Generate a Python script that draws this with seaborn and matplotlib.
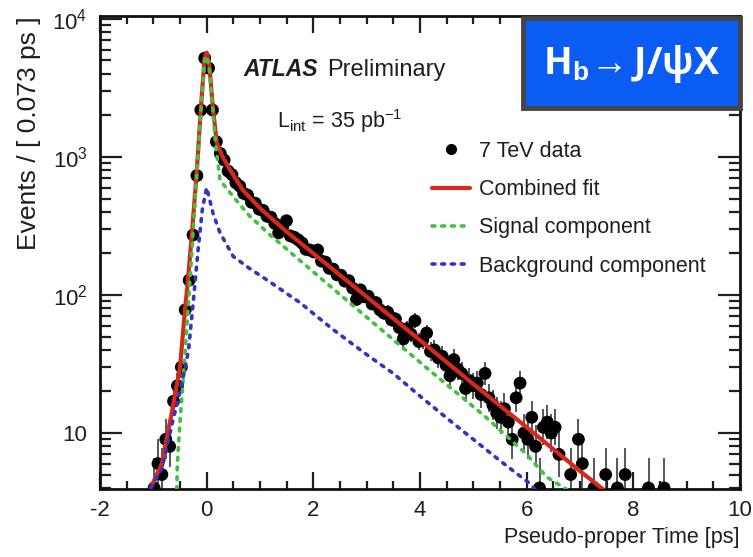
import numpy as np
import pandas as pd
import seaborn as sns
import matplotlib
matplotlib.use("Agg")
import matplotlib.pyplot as plt
from matplotlib.patches import Rectangle
from matplotlib.lines import Line2D
from matplotlib.ticker import FixedLocator, FixedFormatter, MultipleLocator, LogLocator, NullFormatter

# Binned data: 0.073 ps bins, first bin centre at -1.059 ps (0 = empty / off scale)
BIN_WIDTH = 0.073
FIRST_BIN = -1.059
counts = [
    0, 4, 6, 5, 9, 8, 17, 22, 30, 78, 128, 272, 733, 2190, 5200,
    4400, 2190, 1290, 1060, 950, 790, 745, 650, 615, 545, 530, 470, 462, 418,
    410, 372, 366, 330, 282, 309, 345, 268, 262, 251, 238, 214, 212, 205,
    212, 176, 173, 156, 154, 140, 139, 126, 127, 112, 93, 109, 97, 98,
    86, 88, 78, 74, 75, 66, 67, 58, 48, 57, 52, 65, 46, 47,
    53, 39, 40, 35, 36, 31, 26, 34, 29, 27, 21, 24, 22, 23,
    19, 27, 18, 16, 14, 13, 15, 12, 9, 18, 23, 10, 9, 13,
    8, 4, 11, 12, 10, 11, 7, 0, 0, 5, 0, 9, 6, 0,
    0, 4, 0, 0, 5, 0, 0, 4, 0, 5, 0, 0, 0, 0,
    0, 4, 0, 0, 0, 4, 0,
]

# Combined fit (red)
fit_t = [-1.05, -0.84, -0.64, -0.5, -0.41, -0.35, -0.28, -0.19, -0.11, -0.04, 0.0, 0.05,
         0.12, 0.19, 0.3, 0.44, 0.68, 1.0, 1.5, 2.0, 3.0, 4.0, 5.0, 6.0, 7.0, 7.55]
fit_n = [4, 6, 15, 30, 75, 130, 270, 740, 2200, 5200, 5700, 4600,
         2200, 1260, 1000, 805, 575, 425, 287, 200, 97, 47, 22.6, 11, 5.3, 3.6]

# Signal component (green)
sig_t = [-0.56, -0.55, -0.5, -0.45, -0.375, -0.28, -0.19, -0.11, -0.04, 0.0, 0.05, 0.12,
         0.16, 0.25, 0.5, 0.8, 1.19, 2.0, 3.0, 4.2, 5.19, 6.0, 6.375, 6.75]
sig_n = [3.9, 6, 12, 22, 56, 200, 700, 2100, 5000, 5400, 4300, 2100,
         1320, 680, 515, 375, 272, 147, 69, 28, 13.5, 7.0, 4.8, 3.9]

# Background component (blue)
bkg_t = [-1.05, -0.84, -0.64, -0.5, -0.4, -0.34, -0.25, -0.16, -0.08, 0.0, 0.12, 0.25,
         0.5, 0.81, 1.125, 1.75, 2.375, 3.0, 3.5, 4.0, 4.56, 5.5, 6.06, 6.16]
bkg_n = [4, 5.5, 12, 20, 30, 40, 90, 215, 420, 600, 390, 282,
         190, 155, 129, 88, 56, 37, 27, 18.5, 12.3, 6.3, 4.3, 3.9]

y_ticks = [10, 100, 1000, 10000]
y_tick_labels = ["10", "$10^{2}$", "$10^{3}$", "$10^{4}$"]
legend_labels = ["7 TeV data", "Combined fit", "Signal component", "Background component"]

RED = "#d8281c"
GREEN = "#3fc23f"
BLUE = "#3434c4"
TXT = "#1e1e1e"
DOTS = (0, (0.8, 1.9))

sns.set_style("ticks")
plt.rcParams["font.family"] = ["Liberation Sans", "DejaVu Sans"]
plt.rcParams["mathtext.fontset"] = "custom"
plt.rcParams["mathtext.rm"] = "Liberation Sans"
plt.rcParams["mathtext.it"] = "Liberation Sans:italic"
plt.rcParams["mathtext.bf"] = "Liberation Sans:bold"
plt.rcParams["axes.unicode_minus"] = False

W, H = 753, 557
fig = plt.figure(figsize=(W / 100, H / 100), dpi=100)
ax = fig.add_axes([100 / W, 1 - 489 / H, 640 / W, 473 / H])

# data points with Poisson-like errors
df = pd.DataFrame({"n": counts})
df["t"] = FIRST_BIN + BIN_WIDTH * np.arange(len(df))
df = df[df["n"] > 0]
half = np.sqrt(df["n"] + 0.25)
ax.errorbar(df["t"], df["n"], yerr=[half - 0.5, half + 0.5], fmt="none",
            ecolor="#2a2a2a", elinewidth=1.1, capsize=0, zorder=2)
sns.scatterplot(data=df, x="t", y="n", ax=ax, color="black", s=85,
                edgecolor="none", zorder=3)

sns.lineplot(x=fit_t, y=fit_n, ax=ax, color=RED, lw=3.0, sort=False,
             estimator=None, zorder=4)
sns.lineplot(x=sig_t, y=sig_n, ax=ax, color=GREEN, lw=2.6, sort=False,
             estimator=None, linestyle=DOTS, dash_capstyle="round", zorder=5)
sns.lineplot(x=bkg_t, y=bkg_n, ax=ax, color=BLUE, lw=2.6, sort=False,
             estimator=None, linestyle=DOTS, dash_capstyle="round", zorder=5)

ax.set_yscale("log")
ax.set_xlim(-2, 10)
ax.set_ylim(3.93, 1.05e4)
ax.xaxis.set_major_locator(MultipleLocator(2))
ax.xaxis.set_minor_locator(MultipleLocator(0.5))
ax.yaxis.set_major_locator(FixedLocator(y_ticks))
ax.yaxis.set_major_formatter(FixedFormatter(y_tick_labels))
ax.yaxis.set_minor_locator(LogLocator(base=10, subs=np.arange(2, 10)))
ax.yaxis.set_minor_formatter(NullFormatter())
ax.tick_params(which="both", direction="in", top=True, right=True, width=1.6,
               labelsize=16, colors=TXT)
ax.tick_params(axis="x", which="major", length=12, pad=8)
ax.tick_params(axis="x", which="minor", length=6)
ax.tick_params(axis="y", which="major", length=16, pad=9)
ax.tick_params(axis="y", which="minor", length=8)
for sp in ax.spines.values():
    sp.set_linewidth(2)
    sp.set_color("#111111")

ax.set_xlabel("Pseudo-proper Time [ps]", loc="right", fontsize=15.5, color=TXT,
              labelpad=4)
ax.set_ylabel("Events / [ 0.073 ps ]", loc="top", fontsize=19, color=TXT, labelpad=8)

handles = [
    Line2D([], [], marker="o", color="black", ls="none", ms=7),
    Line2D([], [], color=RED, lw=3),
    Line2D([], [], color=GREEN, lw=2.6, ls=DOTS, dash_capstyle="round"),
    Line2D([], [], color=BLUE, lw=2.6, ls=DOTS, dash_capstyle="round"),
]
ax.legend(handles, legend_labels, loc="upper left", bbox_to_anchor=(432 / W, 1 - 141 / H),
          bbox_transform=fig.transFigure, frameon=False, fontsize=15.5,
          handlelength=1.75, handletextpad=0.45, labelspacing=0.8,
          borderpad=0, borderaxespad=0, labelcolor=TXT)

fig.text(243 / W, 1 - 70 / H, "ATLAS", fontsize=16.5, weight="bold", style="italic",
         va="center", ha="left", color=TXT)
fig.text(327 / W, 1 - 70 / H, "Preliminary", fontsize=17, va="center", ha="left",
         color=TXT)
fig.text(277 / W, 1 - 121 / H, r"L$_{\mathrm{int}}$ = 35 pb$^{\mathrm{-1}}$", fontsize=15.5,
         va="center", ha="left", color=TXT)

# blue title box
fig.add_artist(Rectangle((523 / W, 1 - 108 / H), 217 / W, 90 / H, transform=fig.transFigure,
                         facecolor="#0a5cf2", edgecolor="#454545", lw=3.5, zorder=10))
fig.text(632 / W, 1 - 64 / H, r"H$_{\mathbf{b}}\!\rightarrow$J/ψX", fontsize=27,
         weight="bold", color="white", ha="center", va="center", zorder=11,
         family=["Open Sans", "DejaVu Sans"])

fig.savefig("out.png", dpi=100)
